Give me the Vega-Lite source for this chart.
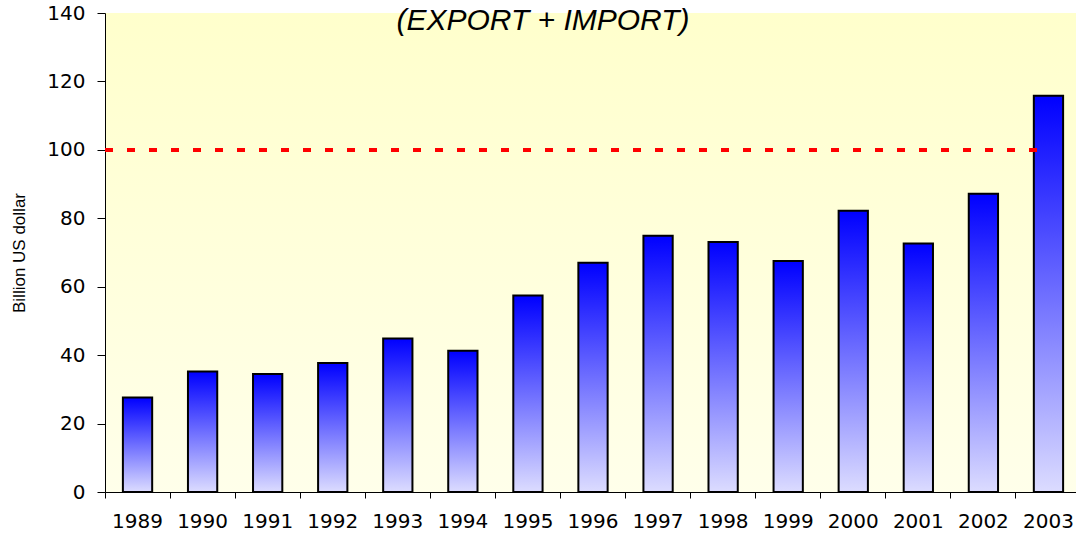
{
  "$schema": "https://vega.github.io/schema/vega-lite/v6.json",
  "autosize": {"type": "none"},
  "width": 976,
  "height": 479,
  "padding": {"left": 105, "top": 13, "right": 0, "bottom": 41},
  "background": "white",
  "config": {
    "view": {
      "stroke": null,
      "fill": {
        "gradient": "linear", "x1": 0, "y1": 0, "x2": 0, "y2": 1,
        "stops": [{"offset": 0, "color": "#ffffcc"}, {"offset": 1, "color": "#ffffea"}]
      }
    },
    "font": "Liberation Sans",
    "axis": {
      "domainColor": "#000", "tickColor": "#000", "labelColor": "#000",
      "labelFont": "DejaVu Sans", "grid": false,
      "titleFont": "Liberation Sans", "titleFontWeight": "normal", "titleColor": "#000"
    }
  },
  "title": {
    "text": "(EXPORT +  IMPORT)",
    "font": "Liberation Sans",
    "fontStyle": "italic",
    "fontWeight": "normal",
    "fontSize": 30,
    "color": "#000",
    "anchor": "middle",
    "frame": "group",
    "baseline": "alphabetic",
    "offset": -20,
    "dy": 37,
    "dx": -50
  },
  "data": {
    "values": [
      {"year": "1989", "value": 27.6},
      {"year": "1990", "value": 35.2},
      {"year": "1991", "value": 34.5},
      {"year": "1992", "value": 37.7},
      {"year": "1993", "value": 44.9},
      {"year": "1994", "value": 41.3},
      {"year": "1995", "value": 57.4},
      {"year": "1996", "value": 67.0},
      {"year": "1997", "value": 74.9},
      {"year": "1998", "value": 73.1},
      {"year": "1999", "value": 67.5},
      {"year": "2000", "value": 82.2},
      {"year": "2001", "value": 72.6},
      {"year": "2002", "value": 87.2},
      {"year": "2003", "value": 115.8}
    ]
  },
  "layer": [
    {
      "mark": {
        "type": "bar",
        "width": {"band": 0.45},
        "stroke": "#000",
        "strokeWidth": 2,
        "fill": {
          "gradient": "linear", "x1": 0, "y1": 0, "x2": 0, "y2": 1,
          "stops": [{"offset": 0, "color": "#0000ff"}, {"offset": 1, "color": "#dcdcff"}]
        }
      },
      "encoding": {
        "x": {
          "field": "year", "type": "ordinal",
          "scale": {"paddingInner": 0, "paddingOuter": 0},
          "axis": {"title": null, "labelAngle": 0, "bandPosition": 0, "tickSize": 6, "labelPadding": 13, "labelFontSize": 20, "domainWidth": 1}
        },
        "y": {
          "field": "value", "type": "quantitative",
          "scale": {"domain": [0, 140], "nice": false},
          "axis": {"title": "Billion US dollar", "titleFontSize": 17, "titlePadding": 18, "values": [0, 20, 40, 60, 80, 100, 120, 140], "tickSize": 8, "labelPadding": 12, "labelFontSize": 20}
        }
      }
    },
    {
      "mark": {"type": "rule", "color": "#ff0000", "strokeWidth": 3.5, "strokeDash": [8, 14]},
      "encoding": {
        "x": {"datum": "1989", "type": "ordinal", "bandPosition": 0},
        "x2": {"datum": "2003"},
        "y": {"datum": 100, "type": "quantitative"}
      }
    }
  ]
}
